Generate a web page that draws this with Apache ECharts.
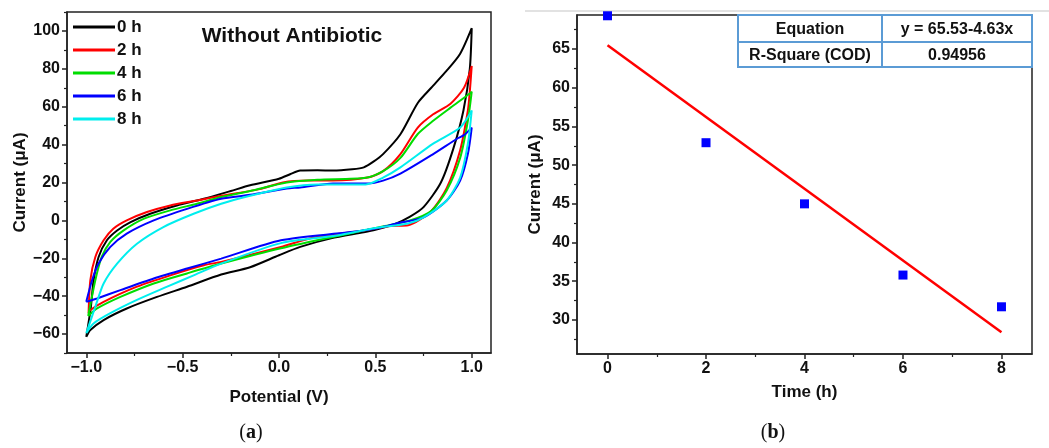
<!DOCTYPE html>
<html>
<head>
<meta charset="utf-8">
<script src="https://cdn.jsdelivr.net/npm/echarts@6/dist/echarts.min.js"></script>
<style>html,body{margin:0;padding:0;background:#fff}#c{width:1049px;height:448px}</style>
</head>
<body>
<div id="c"></div>
<script>
// ---- Panel (a): cyclic voltammograms, [potential V, current uA]
const seriesNames = ['0 h', '2 h', '4 h', '6 h', '8 h'];
const cv0h = [[-1.0,-61.5],[-0.976,-45.6],[-0.962,-31.6],[-0.936,-19.3],[-0.893,-10.5],[-0.84,-5.3],[-0.77,-0.9],[-0.668,3.5],[-0.53,7.9],[-0.39,11.4],[-0.25,15.5],[-0.15,18.5],[0.0,22],[0.06,24.5],[0.11,26.3],[0.2,26.5],[0.28,26.3],[0.38,27],[0.44,28],[0.49,31],[0.54,35],[0.63,45.5],[0.72,62],[0.79,70],[0.87,79],[0.94,88],[1.0,101.5],
  [0.99,80],[0.957,58],[0.905,38],[0.84,20],[0.75,7],[0.68,2],[0.6,-2],[0.5,-5],[0.44,-6.3],[0.27,-9.5],[0.11,-14],[0.0,-18.4],[-0.15,-24.7],[-0.3,-28.6],[-0.477,-35],[-0.633,-40.4],[-0.79,-46.5],[-0.91,-52.6],[-0.979,-57.9],[-1.0,-61.5]];
const cv2h = [[-0.988,-49],[-0.979,-31.6],[-0.953,-19.3],[-0.91,-10.5],[-0.86,-4.4],[-0.79,0],[-0.685,4.4],[-0.564,7.9],[-0.425,10.5],[-0.3,13],[-0.1,16.5],[0.02,20],[0.15,21],[0.28,21],[0.46,22.6],[0.54,26],[0.63,35],[0.72,49],[0.8,56],[0.89,61.6],[0.96,70],[1.0,81.5],
  [0.99,68],[0.98,58],[0.94,37],[0.87,17],[0.79,5],[0.67,-2.6],[0.58,-3],[0.44,-5.3],[0.18,-9],[0.01,-14],[-0.3,-21.9],[-0.39,-23.7],[-0.564,-29],[-0.737,-35],[-0.91,-43],[-0.98,-47.4],[-0.988,-49]];
const cv4h = [[-0.99,-50.5],[-0.953,-31.6],[-0.92,-19.3],[-0.875,-11.4],[-0.806,-5.3],[-0.70,0.9],[-0.564,5.3],[-0.425,8.8],[-0.3,12.3],[-0.15,15.5],[0.04,20],[0.2,21.5],[0.45,22.5],[0.54,26],[0.63,33],[0.72,45.6],[0.8,52.6],[0.89,59.5],[0.99,67],[1.0,68],
  [0.98,52.6],[0.94,33],[0.87,15.8],[0.79,5],[0.68,0],[0.55,-3],[0.36,-7],[0.01,-14.7],[-0.3,-22.8],[-0.477,-28],[-0.65,-33.3],[-0.823,-40.4],[-0.944,-46.5],[-0.99,-50.5]];
const cv6h = [[-1.0,-43],[-0.97,-31.6],[-0.936,-22.8],[-0.875,-14],[-0.79,-7],[-0.65,0],[-0.477,6.1],[-0.3,11.4],[-0.15,13.5],[0.04,16.8],[0.11,17.4],[0.28,19.5],[0.46,19.5],[0.54,21],[0.63,24.7],[0.8,35],[0.93,43.5],[0.96,45],[1.0,49],
  [0.98,35],[0.94,21],[0.87,10.5],[0.75,1.6],[0.61,-1.6],[0.53,-3.7],[0.36,-6.3],[0.01,-10.5],[-0.3,-20.2],[-0.477,-25.4],[-0.65,-30.7],[-0.823,-36.8],[-0.944,-41.2],[-1.0,-43]];
const cv8h = [[-1.0,-59.5],[-0.953,-45.6],[-0.91,-33.3],[-0.84,-22.8],[-0.737,-12.3],[-0.6,-3.5],[-0.443,3.5],[-0.3,8.8],[-0.15,13],[0.04,17.4],[0.2,19],[0.45,19],[0.54,22.6],[0.63,28],[0.8,40.5],[0.94,49],[1.0,58],
  [0.98,40.5],[0.94,22.6],[0.87,10.5],[0.75,1.6],[0.67,-1.6],[0.5,-4],[0.3,-8],[0.01,-12],[-0.3,-22.8],[-0.443,-29],[-0.58,-35],[-0.737,-42],[-0.875,-49],[-0.962,-54.4],[-1.0,-59.5]];
const cvColors = ['#000000', '#ff0000', '#00dd00', '#0000ff', '#00eeee'];
const aXTicks = [-1.0, -0.5, 0.0, 0.5, 1.0];
const aXMinor = [-0.75, -0.25, 0.25, 0.75];
const aYTicks = [-60, -40, -20, 0, 20, 40, 60, 80, 100];
const aYMinor = [-70, -50, -30, -10, 10, 30, 50, 70, 90, 110];

// ---- Panel (b): current vs time
const timeH = [0, 2, 4, 6, 8];
const currentUA = [69.3, 52.9, 45.0, 35.8, 31.7];
const fitTime = [0, 8];
const fitCurrent = [65.5, 28.4];
const bXTicks = [0, 2, 4, 6, 8];
const bXMinor = [1, 3, 5, 7];
const bYTicks = [30, 35, 40, 45, 50, 55, 60, 65];
const bYMinor = [27.5, 32.5, 37.5, 42.5, 47.5, 52.5, 57.5, 62.5, 67.5];
const tableRows = [['Equation', 'y = 65.53-4.63x'], ['R-Square (COD)', '0.94956']];

const FONT = 'Liberation Sans, Arial, sans-serif';
const AX = '#222';
const minus = v => String(v).replace('-', '\u2212');

function mainAxis(gridIndex, min, max, ticks, fmt, name, nameGap, pos) {
  return {
    type: 'value', gridIndex, min, max, position: pos,
    name, nameLocation: 'middle', nameGap,
    nameTextStyle: {fontFamily: FONT, fontWeight: 'bold', fontSize: 17, color: '#111'},
    axisLine: {show: true, onZero: false, lineStyle: {color: AX, width: 1.5}},
    axisTick: {show: true, inside: false, length: 5, customValues: ticks, lineStyle: {color: AX, width: 1.5}},
    axisLabel: {show: true, customValues: ticks, formatter: fmt, fontFamily: FONT, fontWeight: 'bold', fontSize: 16, color: '#111', margin: 7},
    splitLine: {show: false}
  };
}
function minorAxis(gridIndex, min, max, ticks, pos) {
  return {
    type: 'value', gridIndex, min, max, position: pos,
    axisLine: {show: false, onZero: false},
    axisTick: {show: true, inside: false, length: 3, customValues: ticks, lineStyle: {color: AX, width: 1.2}},
    axisLabel: {show: false},
    splitLine: {show: false}
  };
}

const cvData = [cv0h, cv2h, cv4h, cv6h, cv8h];
const series = cvData.map((d, i) => ({
  name: seriesNames[i], type: 'line', xAxisIndex: 0, yAxisIndex: 0,
  data: d, symbol: 'none', smooth: 0.25,
  lineStyle: {color: cvColors[i], width: 2}, itemStyle: {color: cvColors[i]}
}));
series.push({
  type: 'line', xAxisIndex: 2, yAxisIndex: 2,
  data: fitTime.map((t, i) => [t, fitCurrent[i]]), symbol: 'none',
  lineStyle: {color: '#ff0000', width: 2.5}
});
series.push({
  type: 'scatter', xAxisIndex: 2, yAxisIndex: 2,
  data: timeH.map((t, i) => [t, currentUA[i]]), symbol: 'rect', symbolSize: 9,
  itemStyle: {color: '#0000ff', opacity: 1}
});

// table graphics
const tX0 = 738, tX1 = 882, tX2 = 1032, tY0 = 15, tY1 = 42, tY2 = 67;
const tc = '#5b9bd5';
const tableGraphics = [
  {type: 'rect', shape: {x: tX0, y: tY0, width: tX2 - tX0, height: tY2 - tY0}, style: {fill: '#fff', stroke: tc, lineWidth: 2}, z: 10},
  {type: 'line', shape: {x1: tX0, y1: tY1, x2: tX2, y2: tY1}, style: {stroke: tc, lineWidth: 2}, z: 11},
  {type: 'line', shape: {x1: tX1, y1: tY0, x2: tX1, y2: tY2}, style: {stroke: tc, lineWidth: 2}, z: 11}
];
tableRows.forEach((row, r) => {
  const cy = r === 0 ? (tY0 + tY1) / 2 : (tY1 + tY2) / 2;
  row.forEach((txt, c) => {
    const cx = c === 0 ? (tX0 + tX1) / 2 : (tX1 + tX2) / 2;
    tableGraphics.push({type: 'text', x: cx, y: cy + 1, z: 12,
      style: {text: txt, fontFamily: FONT, fontWeight: 'bold', fontSize: 16, fill: '#111', align: 'center', verticalAlign: 'middle'}});
  });
});

const option = {
  backgroundColor: '#fff',
  animation: false,
  grid: [
    {left: 67, top: 12, width: 424, height: 341, show: true, borderColor: AX, borderWidth: 1.5, backgroundColor: 'transparent'},
    {left: 577, top: 15, width: 455, height: 339, show: true, borderColor: AX, borderWidth: 1.5, backgroundColor: 'transparent'}
  ],
  xAxis: [
    mainAxis(0, -1.1, 1.1, aXTicks, v => minus(v.toFixed(1)), 'Potential (V)', 36, 'bottom'),
    minorAxis(0, -1.1, 1.1, aXMinor, 'bottom'),
    mainAxis(1, -0.62, 8.62, bXTicks, v => String(v), 'Time (h)', 30, 'bottom'),
    minorAxis(1, -0.62, 8.62, bXMinor, 'bottom')
  ],
  yAxis: [
    mainAxis(0, -70, 110, aYTicks, v => minus(v), 'Current (\u03bcA)', 36, 'left'),
    minorAxis(0, -70, 110, aYMinor, 'left'),
    mainAxis(1, 25.6, 69.4, bYTicks, v => String(v), 'Current (\u03bcA)', 33, 'left'),
    minorAxis(1, 25.6, 69.4, bYMinor, 'left')
  ],
  legend: {
    data: seriesNames, orient: 'vertical', left: 68, top: 13,
    icon: 'rect', itemWidth: 42, itemHeight: 3, itemGap: 5,
    textStyle: {fontFamily: FONT, fontWeight: 'bold', fontSize: 17, color: '#111', lineHeight: 18, padding: [0,0,0,-3]}
  },
  graphic: [
    {type: 'line', shape: {x1: 525, y1: 11, x2: 1049, y2: 11}, style: {stroke: '#e2e2e2', lineWidth: 2}},
    {type: 'text', x: 292, y: 36, style: {text: 'Without Antibiotic', fontFamily: FONT, fontWeight: 'bold', fontSize: 21, fill: '#111', align: 'center', verticalAlign: 'middle'}},
    {type: 'text', x: 251, y: 433, style: {text: '({b|a})', rich: {b: {fontFamily: 'Liberation Serif, serif', fontWeight: 'bold', fontSize: 20, fill: '#111'}}, fontFamily: 'Liberation Serif, serif', fontSize: 20, fill: '#111', align: 'center', verticalAlign: 'middle'}},
    {type: 'text', x: 773, y: 433, style: {text: '({b|b})', rich: {b: {fontFamily: 'Liberation Serif, serif', fontWeight: 'bold', fontSize: 20, fill: '#111'}}, fontFamily: 'Liberation Serif, serif', fontSize: 20, fill: '#111', align: 'center', verticalAlign: 'middle'}}
  ].concat(tableGraphics),
  series
};
const chart = echarts.init(document.getElementById('c'), null, {renderer: 'canvas'});
chart.setOption(option);
</script>
</body>
</html>
